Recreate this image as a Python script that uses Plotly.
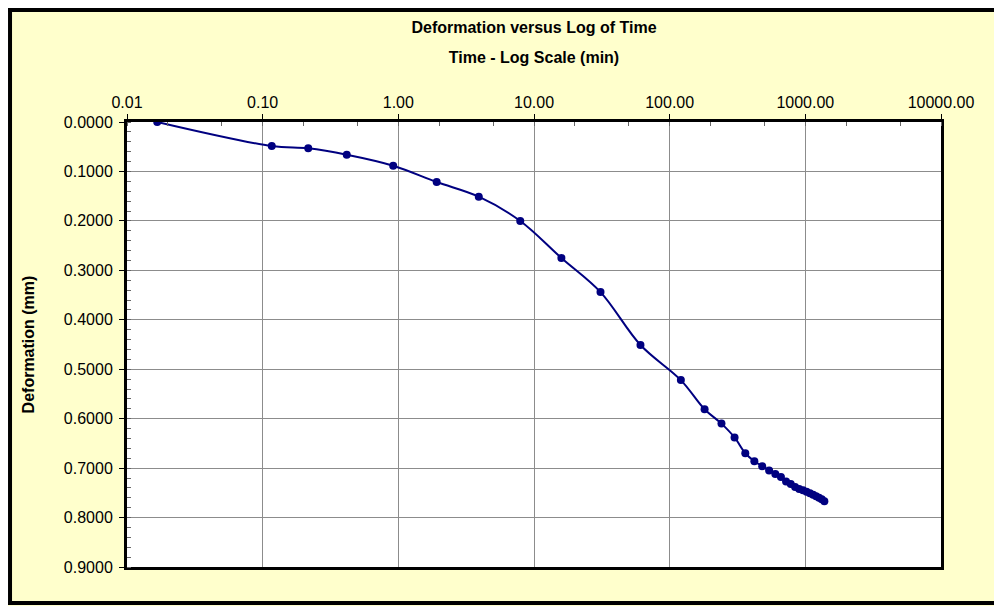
import plotly.graph_objects as go

# données : temps (min) et tassement (mm)
time_min = [0.0167, 0.1167, 0.2167, 0.4167, 0.9167, 1.9167, 3.9167, 7.9167,
            15.92, 30.92, 60.92, 120.9, 180.9, 240.9, 300.9, 360.9, 420.9,
            480.9, 540.9, 600.9, 660.9, 720.9, 780.9, 840.9, 900.9, 960.9,
            1020.9, 1080.9, 1140.9, 1200.9, 1260.9, 1320.9, 1380.9]
deformation = [0.0000, 0.0486, 0.0532, 0.0661, 0.0884, 0.1214, 0.1510, 0.2002,
               0.2750, 0.3440, 0.4510, 0.5220, 0.5810, 0.6100, 0.6380, 0.6700,
               0.6860, 0.6960, 0.7050, 0.7120, 0.7180, 0.7270, 0.7320, 0.7380,
               0.7420, 0.7450, 0.7480, 0.7510, 0.7540, 0.7570, 0.7600, 0.7630,
               0.7670]

x_ticks = [0.01, 0.1, 1, 10, 100, 1000, 10000]
x_labels = ["0.01", "0.10", "1.00", "10.00", "100.00", "1000.00", "10000.00"]
y_ticks = [0.0, 0.1, 0.2, 0.3, 0.4, 0.5, 0.6, 0.7, 0.8, 0.9]
y_labels = [f"{v:.4f}" for v in y_ticks]

font_fam = "Liberation Sans, Arial, sans-serif"
navy = "#000080"

fig = go.Figure()
fig.add_trace(go.Scatter(
    x=time_min, y=deformation, mode="lines+markers",
    line=dict(color=navy, width=2, shape="spline", smoothing=1.0),
    marker=dict(color=navy, size=8, symbol="circle"),
    showlegend=False))

fig.update_xaxes(
    type="log", side="top", range=[-2, 4],
    tickvals=x_ticks, ticktext=x_labels,
    ticks="outside", ticklen=5, tickcolor="black",
    showgrid=True, gridcolor="#8c8c8c", gridwidth=1,
    showline=True, linecolor="black", linewidth=3, mirror=True,
    minor=dict(ticks="inside", ticklen=4, tickcolor="#666", showgrid=False),
    tickfont=dict(size=16, color="black"),
    title=dict(text="<b>Time - Log Scale (min)</b>", standoff=26,
               font=dict(size=16, color="black")),
    zeroline=False)

fig.update_yaxes(
    range=[0.9, 0], tickvals=y_ticks, ticktext=y_labels,
    ticks="outside", ticklen=5, tickcolor="black", ticklabelstandoff=3,
    showgrid=True, gridcolor="#8c8c8c", gridwidth=1,
    showline=True, linecolor="black", linewidth=3, mirror=True,
    minor=dict(ticks="inside", ticklen=4, tickcolor="#666", dtick=0.02, showgrid=False),
    tickfont=dict(size=16, color="black"),
    title=dict(text="<b>Deformation (mm)</b>", standoff=26,
               font=dict(size=16, color="black")),
    zeroline=False)

# taille réduite pour que la page tienne dans la fenêtre (marge du body de 8 px)
fig.update_layout(
    width=994, height=598,
    margin=dict(l=119, r=61, t=114, b=39),
    paper_bgcolor="#FFFFCC", plot_bgcolor="white",
    font=dict(family=font_fam, color="black"),
    title=dict(text="<b>Deformation versus Log of Time</b>",
               x=0.5, xref="paper", y=1 - 19 / 598, yref="container",
               yanchor="middle", font=dict(size=16, color="black")),
)

# cadre noir autour du graphique (pas de bord droit visible)
x_l, x_r, y_b, y_t = -0.1437, 1.5, -0.081, 1.2517
fig.add_shape(type="path", xref="paper", yref="paper",
              path=f"M {x_r},{y_t} L {x_l},{y_t} L {x_l},{y_b} L {x_r},{y_b}",
              line=dict(color="black", width=4), layer="below")

fig.write_html("out.html")
